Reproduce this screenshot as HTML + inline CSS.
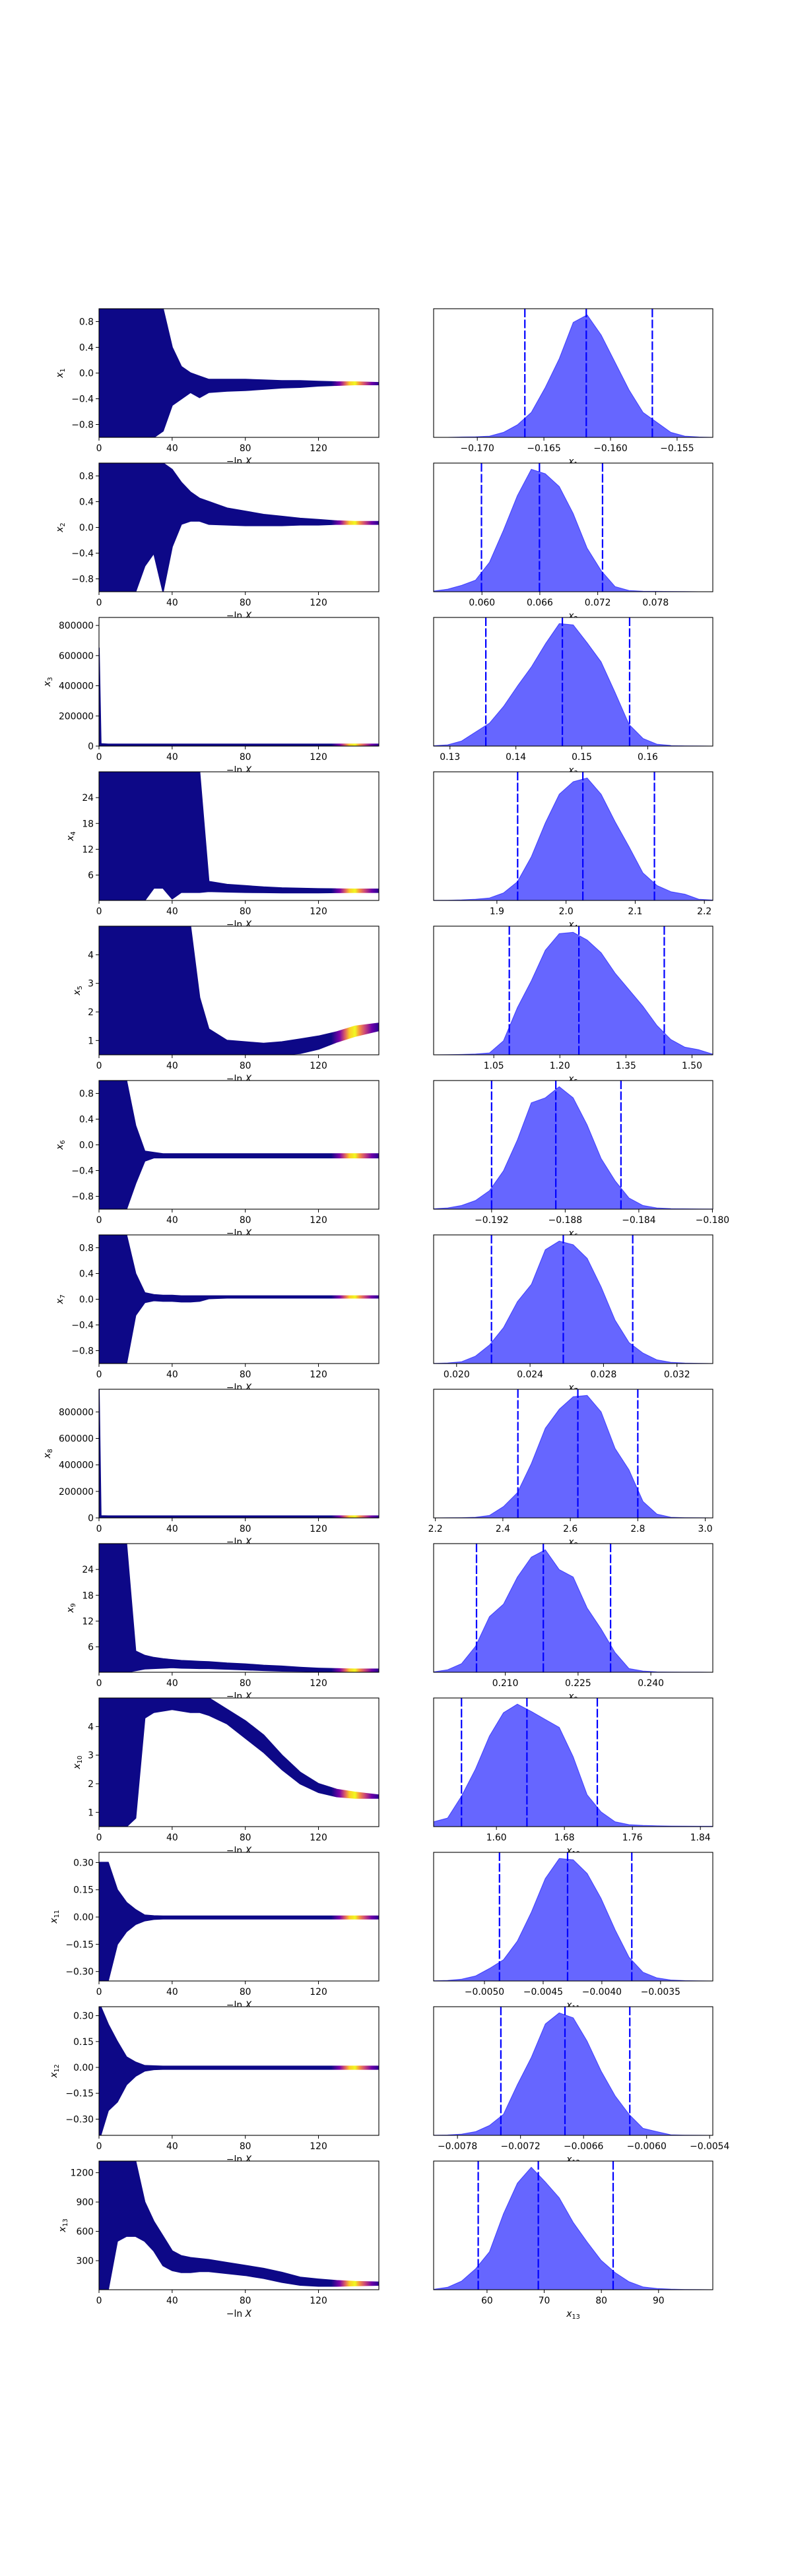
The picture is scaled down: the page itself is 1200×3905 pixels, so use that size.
<!DOCTYPE html>
<html><head><meta charset="utf-8"><style>
html,body{margin:0;padding:0;background:#fff;}
svg text{font-family:"DejaVu Sans","Liberation Sans",sans-serif;font-size:13.9px;fill:#000;}
</style></head><body>
<svg id="fig" xmlns="http://www.w3.org/2000/svg" width="1200" height="3900" viewBox="0 0 1200 3900">
<rect x="0" y="0" width="1200" height="3900" fill="#fff"/>
<defs>
<linearGradient id="plasma" gradientUnits="userSpaceOnUse" x1="150" y1="0" x2="574" y2="0">
<stop offset="0" stop-color="#0d0887"/><stop offset="0.83" stop-color="#0d0887"/>
<stop offset="0.86" stop-color="#7e03a8"/><stop offset="0.88" stop-color="#e16462"/>
<stop offset="0.895" stop-color="#fcce25"/><stop offset="0.915" stop-color="#f0f921"/>
<stop offset="0.93" stop-color="#f89540"/><stop offset="0.95" stop-color="#cc4778"/>
<stop offset="0.975" stop-color="#6a00a8"/><stop offset="1" stop-color="#2a0593"/>
</linearGradient>
</defs>
<g id="labels-layer"></g>
<g id="axes-layer"></g>
</svg>
<script>
// ---- data ----
const traceX = [0,1,5,10,15,20,25,30,35,40,45,50,55,60,70,80,90,100,110,120,130,140,153];
const traceHi = [
 [1,1,1,1,1,1,1,1,1,0.4,0.1,0,-0.05,-0.1,-0.1,-0.1,-0.11,-0.12,-0.12,-0.13,-0.14,-0.14,-0.15],
 [1,1,1,1,1,1,1,1,1,0.9,0.7,0.55,0.45,0.4,0.3,0.25,0.2,0.17,0.14,0.12,0.1,0.09,0.09],
 [650000,15000,12000,12000,12000,12000,12000,12000,12000,12000,12000,12000,12000,12000,12000,12000,12000,12000,12000,12000,12000,12000,12000],
 [30,30,30,30,30,30,30,30,30,30,30,30,30,4.5,3.8,3.5,3.2,3.0,2.9,2.8,2.75,2.7,2.7],
 [5,5,5,5,5,5,5,5,5,5,5,5,2.5,1.4,1.0,0.95,0.9,0.95,1.05,1.15,1.3,1.5,1.6],
 [1,1,1,1,1,0.3,-0.1,-0.12,-0.14,-0.14,-0.14,-0.14,-0.14,-0.14,-0.14,-0.14,-0.14,-0.14,-0.14,-0.14,-0.14,-0.14,-0.14],
 [1,1,1,1,1,0.4,0.1,0.07,0.06,0.06,0.05,0.05,0.05,0.05,0.05,0.05,0.05,0.05,0.05,0.05,0.05,0.05,0.05],
 [970000,15000,14000,14000,14000,14000,14000,14000,14000,14000,14000,14000,14000,14000,14000,14000,14000,14000,14000,14000,14000,14000,14000],
 [30,30,30,30,30,5,4,3.5,3.2,3,2.8,2.7,2.6,2.5,2.2,2.0,1.7,1.5,1.2,1.0,0.9,0.8,0.8],
 [5,5,5,5,5,5,5,5,5,5,5,5,5,5,4.6,4.2,3.7,3.0,2.4,2.0,1.8,1.7,1.6],
 [0.3,0.3,0.3,0.15,0.08,0.04,0.01,0.006,0.005,0.005,0.005,0.005,0.005,0.005,0.005,0.005,0.005,0.005,0.005,0.005,0.005,0.005,0.005],
 [0.35,0.35,0.25,0.15,0.06,0.03,0.01,0.008,0.006,0.006,0.006,0.006,0.006,0.006,0.006,0.006,0.006,0.006,0.006,0.006,0.006,0.006,0.006],
 [1319,1319,1319,1319,1319,1319,900,700,550,400,350,330,320,310,280,250,220,180,130,110,95,85,80]
];
const traceLo = [
 [-1,-1,-1,-1,-1,-1,-1,-1,-0.9,-0.5,-0.4,-0.3,-0.38,-0.3,-0.28,-0.27,-0.25,-0.23,-0.22,-0.2,-0.19,-0.18,-0.18],
 [-1,-1,-1,-1,-1,-1,-0.6,-0.4,-1,-0.3,0.05,0.1,0.1,0.05,0.04,0.03,0.03,0.03,0.04,0.04,0.05,0.05,0.05],
 [0,0,0,0,0,0,0,0,0,0,0,0,0,0,0,0,0,0,0,0,0,0,0],
 [0.1,0.1,0.1,0.1,0.1,0.1,0.1,3,3,0.5,2,2,2,2.2,2.1,2.0,1.95,1.9,1.9,1.9,1.95,2.0,2.0],
 [0.5,0.5,0.5,0.5,0.5,0.5,0.5,0.5,0.5,0.5,0.5,0.5,0.5,0.5,0.5,0.5,0.5,0.5,0.55,0.7,0.95,1.15,1.35],
 [-1,-1,-1,-1,-1,-0.6,-0.25,-0.2,-0.2,-0.2,-0.2,-0.2,-0.2,-0.2,-0.2,-0.2,-0.2,-0.2,-0.2,-0.2,-0.2,-0.2,-0.2],
 [-1,-1,-1,-1,-1,-0.25,-0.05,-0.02,-0.03,-0.03,-0.04,-0.04,-0.03,0.01,0.02,0.02,0.02,0.02,0.02,0.02,0.02,0.02,0.02],
 [0,0,0,0,0,0,0,0,0,0,0,0,0,0,0,0,0,0,0,0,0,0,0],
 [0.1,0.1,0.1,0.1,0.1,0.5,0.9,1.0,1.1,1.2,1.1,1.05,1.0,1.0,0.85,0.7,0.55,0.4,0.35,0.3,0.3,0.3,0.3],
 [0.5,0.5,0.5,0.5,0.5,0.8,4.3,4.5,4.55,4.6,4.55,4.5,4.5,4.4,4.1,3.6,3.1,2.5,2.0,1.7,1.55,1.5,1.5],
 [-0.35,-0.35,-0.35,-0.15,-0.08,-0.04,-0.02,-0.012,-0.01,-0.01,-0.01,-0.01,-0.01,-0.01,-0.01,-0.01,-0.01,-0.01,-0.01,-0.01,-0.01,-0.01,-0.01],
 [-0.39,-0.39,-0.25,-0.2,-0.1,-0.05,-0.02,-0.012,-0.01,-0.01,-0.01,-0.01,-0.01,-0.01,-0.01,-0.01,-0.01,-0.01,-0.01,-0.01,-0.01,-0.01,-0.01],
 [3,3,3,500,550,550,500,400,250,200,180,180,190,190,170,150,120,80,50,40,40,45,50]
];
const traceYLim = [[-1,1],[-1,1],[0,853000],[0.1,30],[0.5,5],[-1,1],[-1,1],[0,971000],[0.1,30],[0.5,5],[-0.352,0.356],[-0.394,0.352],[3,1319]];
const traceYTicks = [
 [-0.8,-0.4,0,0.4,0.8],[-0.8,-0.4,0,0.4,0.8],[0,200000,400000,600000,800000],[6,12,18,24],[1,2,3,4],
 [-0.8,-0.4,0,0.4,0.8],[-0.8,-0.4,0,0.4,0.8],[0,200000,400000,600000,800000],[6,12,18,24],[1,2,3,4],
 [-0.3,-0.15,0,0.15,0.3],[-0.3,-0.15,0,0.15,0.3],[300,600,900,1200]
];
const traceYTickLabels = [
 ["−0.8","−0.4","0.0","0.4","0.8"],["−0.8","−0.4","0.0","0.4","0.8"],["0","200000","400000","600000","800000"],["6","12","18","24"],["1","2","3","4"],
 ["−0.8","−0.4","0.0","0.4","0.8"],["−0.8","−0.4","0.0","0.4","0.8"],["0","200000","400000","600000","800000"],["6","12","18","24"],["1","2","3","4"],
 ["−0.30","−0.15","0.00","0.15","0.30"],["−0.30","−0.15","0.00","0.15","0.30"],["300","600","900","1200"]
];
const traceXLim = [0,153];
const traceXTicks = [0,40,80,120];
const traceXTickLabels = ["0","40","80","120"];

const postXLim = [[-0.17328,-0.15232],[0.05499,0.08393],[0.12752,0.16987],[1.8085,2.2122],[0.9134,1.5472],[-0.19515,-0.17998],[0.01875,0.03395],[2.1948,3.0223],[0.19523,0.25277],[1.5261,1.8546],[-0.005433,-0.003055],[-0.008027,-0.00537],[50.66,99.49]];
const postXTicks = [
 [-0.170,-0.165,-0.160,-0.155],[0.060,0.066,0.072,0.078],[0.13,0.14,0.15,0.16],[1.9,2.0,2.1,2.2],[1.05,1.20,1.35,1.50],
 [-0.192,-0.188,-0.184,-0.180],[0.020,0.024,0.028,0.032],[2.2,2.4,2.6,2.8,3.0],[0.210,0.225,0.240],[1.60,1.68,1.76,1.84],
 [-0.0050,-0.0045,-0.0040,-0.0035],[-0.0078,-0.0072,-0.0066,-0.0060,-0.0054],[60,70,80,90]
];
const postXTickLabels = [
 ["−0.170","−0.165","−0.160","−0.155"],["0.060","0.066","0.072","0.078"],["0.13","0.14","0.15","0.16"],["1.9","2.0","2.1","2.2"],["1.05","1.20","1.35","1.50"],
 ["−0.192","−0.188","−0.184","−0.180"],["0.020","0.024","0.028","0.032"],["2.2","2.4","2.6","2.8","3.0"],["0.210","0.225","0.240"],["1.60","1.68","1.76","1.84"],
 ["−0.0050","−0.0045","−0.0040","−0.0035"],["−0.0078","−0.0072","−0.0066","−0.0060","−0.0054"],["60","70","80","90"]
];
const postQuantiles = [
 [-0.16643,-0.16182,-0.15686],[0.05995,0.06596,0.0725],[0.13544,0.14705,0.15725],[1.930,2.0243,2.1278],[1.0852,1.2432,1.4370],
 [-0.192,-0.18851,-0.18497],[0.0219,0.02581,0.02959],[2.4446,2.6223,2.8],[0.20407,0.21784,0.2317],[1.5589,1.6359,1.7187],
 [-0.004872,-0.004292,-0.003745],[-0.007387,-0.006777,-0.00616],[58.46,68.97,82.06]
];
const postDensity = [
 [0,0,0.003,0.005,0.01,0.04,0.1,0.2,0.4,0.63,0.92,0.98,0.82,0.6,0.38,0.2,0.12,0.04,0.01,0.003,0],
 [0.005,0.02,0.05,0.09,0.23,0.48,0.75,0.955,0.92,0.82,0.61,0.34,0.165,0.04,0.01,0.004,0.003,0.002,0.001,0,0],
 [0.003,0.01,0.04,0.11,0.18,0.31,0.47,0.62,0.8,0.96,0.95,0.81,0.66,0.42,0.17,0.06,0.015,0.005,0.002,0.001,0],
 [0.001,0.002,0.005,0.01,0.02,0.06,0.15,0.35,0.62,0.85,0.95,0.98,0.85,0.63,0.43,0.22,0.12,0.07,0.05,0.01,0.003],
 [0,0.001,0.003,0.006,0.015,0.11,0.37,0.58,0.82,0.95,0.96,0.9,0.8,0.64,0.51,0.38,0.23,0.12,0.06,0.04,0.005],
 [0.003,0.01,0.03,0.07,0.15,0.31,0.56,0.86,0.9,0.99,0.9,0.68,0.41,0.23,0.09,0.03,0.01,0.005,0.003,0.002,0.001],
 [0.001,0.005,0.015,0.06,0.15,0.29,0.5,0.64,0.92,0.99,0.96,0.85,0.62,0.35,0.17,0.085,0.03,0.01,0.004,0.002,0],
 [0,0.001,0.002,0.005,0.02,0.09,0.2,0.43,0.71,0.86,0.96,0.97,0.84,0.55,0.38,0.13,0.03,0.005,0.002,0.001,0],
 [0.003,0.02,0.07,0.21,0.45,0.55,0.77,0.93,0.99,0.83,0.77,0.52,0.35,0.16,0.03,0.01,0.003,0.002,0.001,0.001,0],
 [0.04,0.07,0.25,0.47,0.74,0.93,1.0,0.94,0.875,0.81,0.57,0.26,0.12,0.04,0.016,0.01,0.007,0.005,0.004,0.003,0.003],
 [0.002,0.005,0.015,0.04,0.1,0.17,0.32,0.55,0.82,0.98,0.97,0.86,0.66,0.41,0.19,0.07,0.025,0.008,0.003,0.001,0],
 [0.001,0.003,0.01,0.03,0.08,0.17,0.41,0.63,0.9,0.99,0.95,0.76,0.52,0.32,0.17,0.057,0.03,0.005,0.002,0.001,0],
 [0.003,0.02,0.07,0.17,0.31,0.62,0.87,1.0,0.88,0.75,0.55,0.39,0.24,0.14,0.065,0.023,0.01,0.005,0.002,0.001,0]
];

// ---- layout ----
const NS = "http://www.w3.org/2000/svg";
const LEFT_L = 150, LEFT_W = 424, RIGHT_L = 657, RIGHT_W = 423;
const TOP0 = 468, PITCH = 234, AX_H = 195;
const yLabelX = [91,91,72,107,117,91,91,72,107,117,82,82,95];
const labelsLayer = document.getElementById('labels-layer');
const axesLayer = document.getElementById('axes-layer');

function mk(tag, attrs, parent) {
  const e = document.createElementNS(NS, tag);
  for (const k in attrs) e.setAttribute(k, attrs[k]);
  parent.appendChild(e);
  return e;
}
function linScale(d0, d1, r0, r1) { return v => r0 + (v - d0) / (d1 - d0) * (r1 - r0); }

function subLabel(parent, x, y, base, sub, anchor, extra) {
  const t = mk('text', Object.assign({x: x, y: y, 'text-anchor': anchor}, extra || {}), parent);
  const a = mk('tspan', {'font-style': 'italic'}, t); a.textContent = base;
  const b = mk('tspan', {'font-size': '9.7px', dy: '3'}, t); b.textContent = sub;
  return t;
}

for (let r = 0; r < 13; r++) {
  const T = TOP0 + r * PITCH, B = T + AX_H;
  const n = r + 1;

  const lx = mk('text', {x: LEFT_L + LEFT_W / 2, y: B + 41, 'text-anchor': 'middle'}, labelsLayer);
  
  
  lx.textContent = '−ln ';
  const it = mk('tspan', {'font-style': 'italic'}, lx); it.textContent = 'X';
  const rx = subLabel(labelsLayer, RIGHT_L + RIGHT_W / 2, B + 41, 'x', String(n), 'middle');
  
  

  const gL = mk('g', {}, axesLayer);
  
  
  mk('rect', {x: LEFT_L, y: T, width: LEFT_W, height: AX_H, fill: '#fff'}, gL);
  const sx = linScale(traceXLim[0], traceXLim[1], LEFT_L, LEFT_L + LEFT_W);
  const sy = linScale(traceYLim[r][0], traceYLim[r][1], B, T);
  const clipId = 'clipL' + n;
  const cp = mk('clipPath', {id: clipId}, gL);
  mk('rect', {x: LEFT_L, y: T, width: LEFT_W, height: AX_H}, cp);
  let pts = [];
  for (let i = 0; i < traceX.length; i++) pts.push(sx(traceX[i]).toFixed(1) + ',' + sy(traceHi[r][i]).toFixed(1));
  for (let i = traceX.length - 1; i >= 0; i--) pts.push(sx(traceX[i]).toFixed(1) + ',' + sy(traceLo[r][i]).toFixed(1));
  const band = mk('polygon', {points: pts.join(' '), fill: 'url(#plasma)', stroke: 'url(#plasma)', 'stroke-width': 2, 'stroke-linejoin': 'round', 'clip-path': 'url(#' + clipId + ')'}, gL);
  
  
  mk('rect', {x: LEFT_L, y: T, width: LEFT_W, height: AX_H, fill: 'none', stroke: '#000', 'stroke-width': 1.1}, gL);
  traceXTicks.forEach((v, i) => {
    const x = sx(v);
    mk('line', {x1: x, x2: x, y1: B, y2: B + 5, stroke: '#000', 'stroke-width': 1}, gL);
    const t = mk('text', {x: x, y: B + 21, 'text-anchor': 'middle'}, gL);
    
    
    t.textContent = traceXTickLabels[i];
  });
  traceYTicks[r].forEach((v, i) => {
    const y = sy(v);
    mk('line', {x1: LEFT_L - 5, x2: LEFT_L, y1: y, y2: y, stroke: '#000', 'stroke-width': 1}, gL);
    const t = mk('text', {x: LEFT_L - 8, y: y + 5, 'text-anchor': 'end'}, gL);
    
    
    t.textContent = traceYTickLabels[r][i];
  });
  const yl = subLabel(gL, yLabelX[r], T + AX_H / 2 + 4, 'x', String(n), 'middle', {transform: 'rotate(-90 ' + yLabelX[r] + ' ' + (T + AX_H / 2) + ')'});
  
  

  const gR = mk('g', {}, axesLayer);
  
  
  mk('rect', {x: RIGHT_L, y: T, width: RIGHT_W, height: AX_H, fill: '#fff'}, gR);
  const px = linScale(postXLim[r][0], postXLim[r][1], RIGHT_L, RIGHT_L + RIGHT_W);
  const dmax = Math.max.apply(null, postDensity[r]) * 1.05;
  const py = linScale(0, dmax, B, T);
  const N = postDensity[r].length;
  let d = 'M' + px(postXLim[r][0]).toFixed(1) + ',' + py(0).toFixed(1);
  for (let i = 0; i < N; i++) {
    const xv = postXLim[r][0] + (postXLim[r][1] - postXLim[r][0]) * i / (N - 1);
    d += ' L' + px(xv).toFixed(1) + ',' + py(postDensity[r][i]).toFixed(1);
  }
  d += ' L' + px(postXLim[r][1]).toFixed(1) + ',' + py(0).toFixed(1) + ' Z';
  const dens = mk('path', {d: d, fill: 'rgba(0,0,255,0.6)', stroke: 'rgba(0,0,255,0.6)', 'stroke-width': 1, 'stroke-linejoin': 'round'}, gR);
  
  
  postQuantiles[r].forEach((q, i) => {
    const x = px(q);
    const ql = mk('line', {x1: x, x2: x, y1: T, y2: B, stroke: '#0000ff', 'stroke-width': 2.2, 'stroke-dasharray': '13,3.5'}, gR);
    
    
  });
  mk('rect', {x: RIGHT_L, y: T, width: RIGHT_W, height: AX_H, fill: 'none', stroke: '#000', 'stroke-width': 1.1}, gR);
  postXTicks[r].forEach((v, i) => {
    const x = px(v);
    mk('line', {x1: x, x2: x, y1: B, y2: B + 5, stroke: '#000', 'stroke-width': 1}, gR);
    const t = mk('text', {x: x, y: B + 21, 'text-anchor': 'middle'}, gR);
    
    
    t.textContent = postXTickLabels[r][i];
  });
}
</script>
</body></html>
